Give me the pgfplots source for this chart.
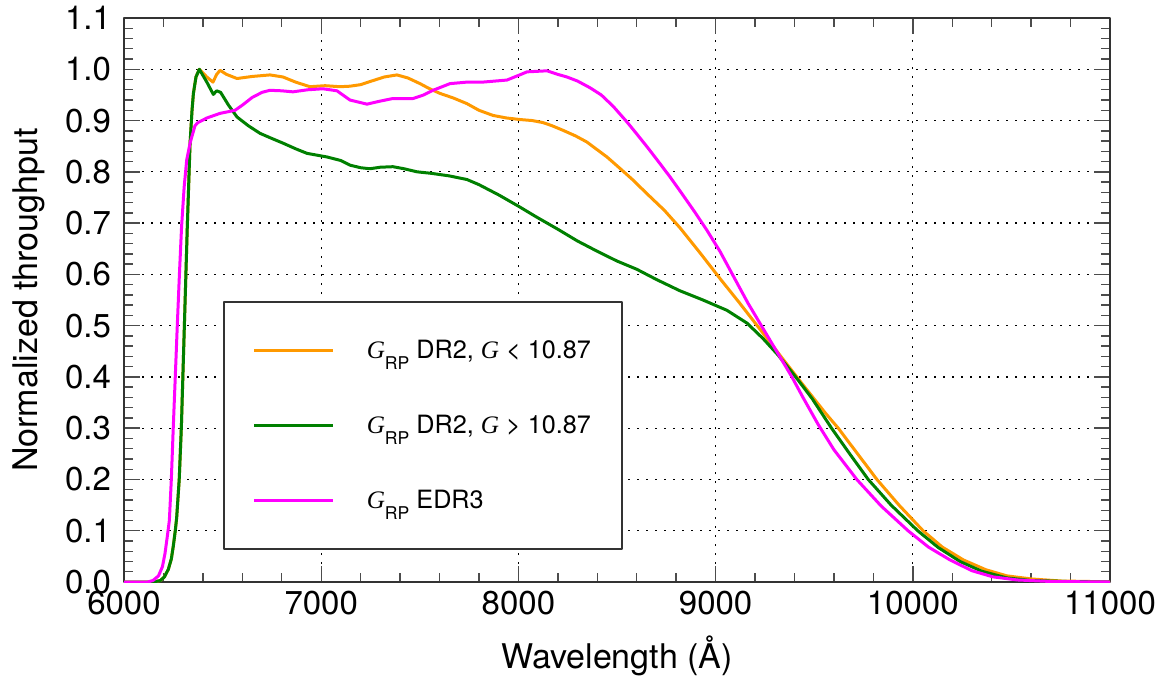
\documentclass[border=0pt]{standalone}
\usepackage{pgfplots}
\pgfplotsset{compat=1.18}
\usepackage{fontspec}
\setmainfont{TeX Gyre Heros}
\newfontfamily\tnr{Liberation Serif}
\definecolor{corange}{RGB}{255,153,0}
\definecolor{cgreen}{RGB}{0,128,0}
\definecolor{cmag}{RGB}{255,0,255}
\newcommand{\GRP}{\rule[-4pt]{0pt}{13.4pt}{\tnr\itshape G}\raisebox{-5.8pt}[0pt][0pt]{\fontsize{8.8}{9}\selectfont RP}}
\newcommand{\Git}{{\tnr\itshape G}}
\begin{document}
\begin{tikzpicture}
\path[use as bounding box] (-62pt,-55.5pt) rectangle (520.5pt,291pt);
\begin{axis}[
  scale only axis,
  width=493pt, height=282pt,
  xmin=6000, xmax=11000, ymin=0, ymax=1.1,
  xtick={6000,7000,...,11000},
  ytick={0,0.1,...,1.1},
  scaled x ticks=false,
  minor x tick num=4, minor y tick num=4,
  tick align=inside,
  major tick length=8pt, minor tick length=4.5pt,
  every tick/.style={black!70, line width=0.7pt},
  axis line style={black!80, line width=0.9pt},
  grid=major,
  major grid style={black, line width=0.6pt, dash pattern=on 1pt off 3.5pt},
  /pgf/number format/assume math mode=true,
  ticklabel style={font=\fontsize{16.5}{18}\selectfont},
  xticklabel style={/pgf/number format/set thousands separator={}, yshift=-1pt},
  yticklabel style={/pgf/number format/fixed, /pgf/number format/fixed zerofill, /pgf/number format/precision=1, xshift=-3pt},
  xlabel={Wavelength (Å)},
  ylabel={Normalized throughput},
  label style={font=\fontsize{17}{20}\selectfont},
  xlabel style={at={(axis description cs:0.5,-0.1525)}, anchor=base},
  ylabel style={at={(axis description cs:-0.088,0.5)}, anchor=base},
  legend style={at={(axis description cs:0.1004,0.4982)}, anchor=north west,
    draw=black!80, line width=0.8pt, fill=white,
    font=\fontsize{12.6}{15}\selectfont,
    inner xsep=13.5pt, inner ysep=16.8pt, row sep=22.6pt, column sep=14pt,
    cells={anchor=west}},
  legend image code/.code={\path (0pt,0pt); \draw[#1, line width=1.5pt] (1pt,0pt) -- (40.5pt,0pt);},
  line join=round,
]
\addplot[corange, line width=1.5pt] coordinates {
(6000,0)(6150,0)(6185,0.003)(6205,0.01)(6225,0.025)(6240,0.045)(6250,0.07)(6260,0.1)(6267,0.125)(6280,0.2)(6291,0.303)(6306,0.498)(6321,0.693)(6335,0.856)(6345,0.92)(6352,0.953)(6365,0.985)(6382,1.0)(6420,0.985)(6451,0.975)(6470,0.99)(6487,0.998)(6520,0.99)(6573,0.982)(6650,0.986)(6740,0.989)(6806,0.985)(6870,0.975)(6943,0.966)(7020,0.968)(7095,0.966)(7146,0.967)(7200,0.97)(7247,0.976)(7320,0.985)(7384,0.989)(7440,0.983)(7501,0.972)(7550,0.962)(7602,0.953)(7670,0.944)(7739,0.933)(7800,0.92)(7871,0.910)(7940,0.905)(8008,0.902)(8070,0.9)(8125,0.896)(8170,0.89)(8226,0.881)(8290,0.87)(8348,0.858)(8400,0.843)(8449,0.829)(8520,0.805)(8581,0.784)(8650,0.758)(8740,0.725)(8819,0.691)(8921,0.642)(9022,0.592)(9124,0.543)(9225,0.493)(9327,0.442)(9428,0.392)(9504,0.355)(9560,0.328)(9622,0.3)(9720,0.25)(9818,0.2)(9930,0.15)(10052,0.1)(10150,0.068)(10257,0.043)(10370,0.024)(10477,0.012)(10600,0.006)(10750,0.002)(10900,0.001)(11000,0.0)
};
\addlegendentry{\GRP\ DR2, \Git\ < 10.87}
\addplot[cgreen, line width=1.5pt] coordinates {
(6000,0)(6150,0)(6185,0.003)(6205,0.01)(6225,0.025)(6240,0.045)(6250,0.07)(6260,0.1)(6267,0.125)(6280,0.2)(6291,0.303)(6306,0.498)(6321,0.693)(6335,0.856)(6345,0.92)(6352,0.953)(6365,0.985)(6382,1.0)(6420,0.975)(6453,0.951)(6470,0.958)(6490,0.955)(6530,0.93)(6573,0.907)(6630,0.89)(6690,0.875)(6750,0.865)(6806,0.856)(6870,0.845)(6928,0.836)(7029,0.829)(7100,0.822)(7146,0.813)(7200,0.808)(7247,0.806)(7300,0.809)(7364,0.810)(7420,0.806)(7486,0.800)(7560,0.797)(7650,0.792)(7739,0.785)(7800,0.775)(7900,0.755)(8000,0.733)(8100,0.71)(8200,0.688)(8300,0.665)(8400,0.645)(8500,0.626)(8600,0.61)(8700,0.59)(8819,0.568)(8936,0.550)(9057,0.530)(9159,0.505)(9240,0.475)(9316,0.443)(9402,0.402)(9489,0.358)(9588,0.3)(9680,0.25)(9774,0.2)(9890,0.15)(10025,0.1)(10130,0.067)(10240,0.040)(10350,0.021)(10477,0.008)(10600,0.003)(10780,0.001)(11000,0.0)
};
\addlegendentry{\GRP\ DR2, \Git\ > 10.87}
\addplot[cmag, line width=1.5pt] coordinates {
(6000,0)(6120,0)(6147,0.003)(6175,0.012)(6195,0.03)(6208,0.056)(6220,0.09)(6230,0.12)(6240,0.2)(6250,0.303)(6260,0.4)(6270,0.498)(6281,0.6)(6292,0.693)(6305,0.77)(6318,0.823)(6335,0.856)(6360,0.89)(6375,0.896)(6420,0.905)(6487,0.914)(6563,0.920)(6600,0.93)(6650,0.945)(6700,0.955)(6740,0.959)(6800,0.958)(6857,0.956)(6930,0.96)(7009,0.962)(7080,0.958)(7146,0.940)(7232,0.932)(7300,0.938)(7364,0.943)(7466,0.943)(7520,0.95)(7567,0.959)(7653,0.972)(7740,0.975)(7820,0.975)(7942,0.979)(8000,0.988)(8044,0.995)(8145,0.997)(8200,0.99)(8246,0.985)(8300,0.977)(8363,0.964)(8420,0.95)(8480,0.928)(8551,0.897)(8600,0.874)(8652,0.849)(8710,0.82)(8769,0.79)(8819,0.763)(8890,0.724)(8956,0.686)(9022,0.645)(9088,0.598)(9164,0.544)(9235,0.498)(9311,0.449)(9387,0.400)(9443,0.360)(9519,0.308)(9600,0.258)(9716,0.2)(9840,0.148)(9976,0.1)(10080,0.068)(10189,0.043)(10300,0.022)(10407,0.010)(10530,0.004)(10700,0.001)(11000,0.0)
};
\addlegendentry{\GRP\ EDR3}
\end{axis}
\end{tikzpicture}
\end{document}
